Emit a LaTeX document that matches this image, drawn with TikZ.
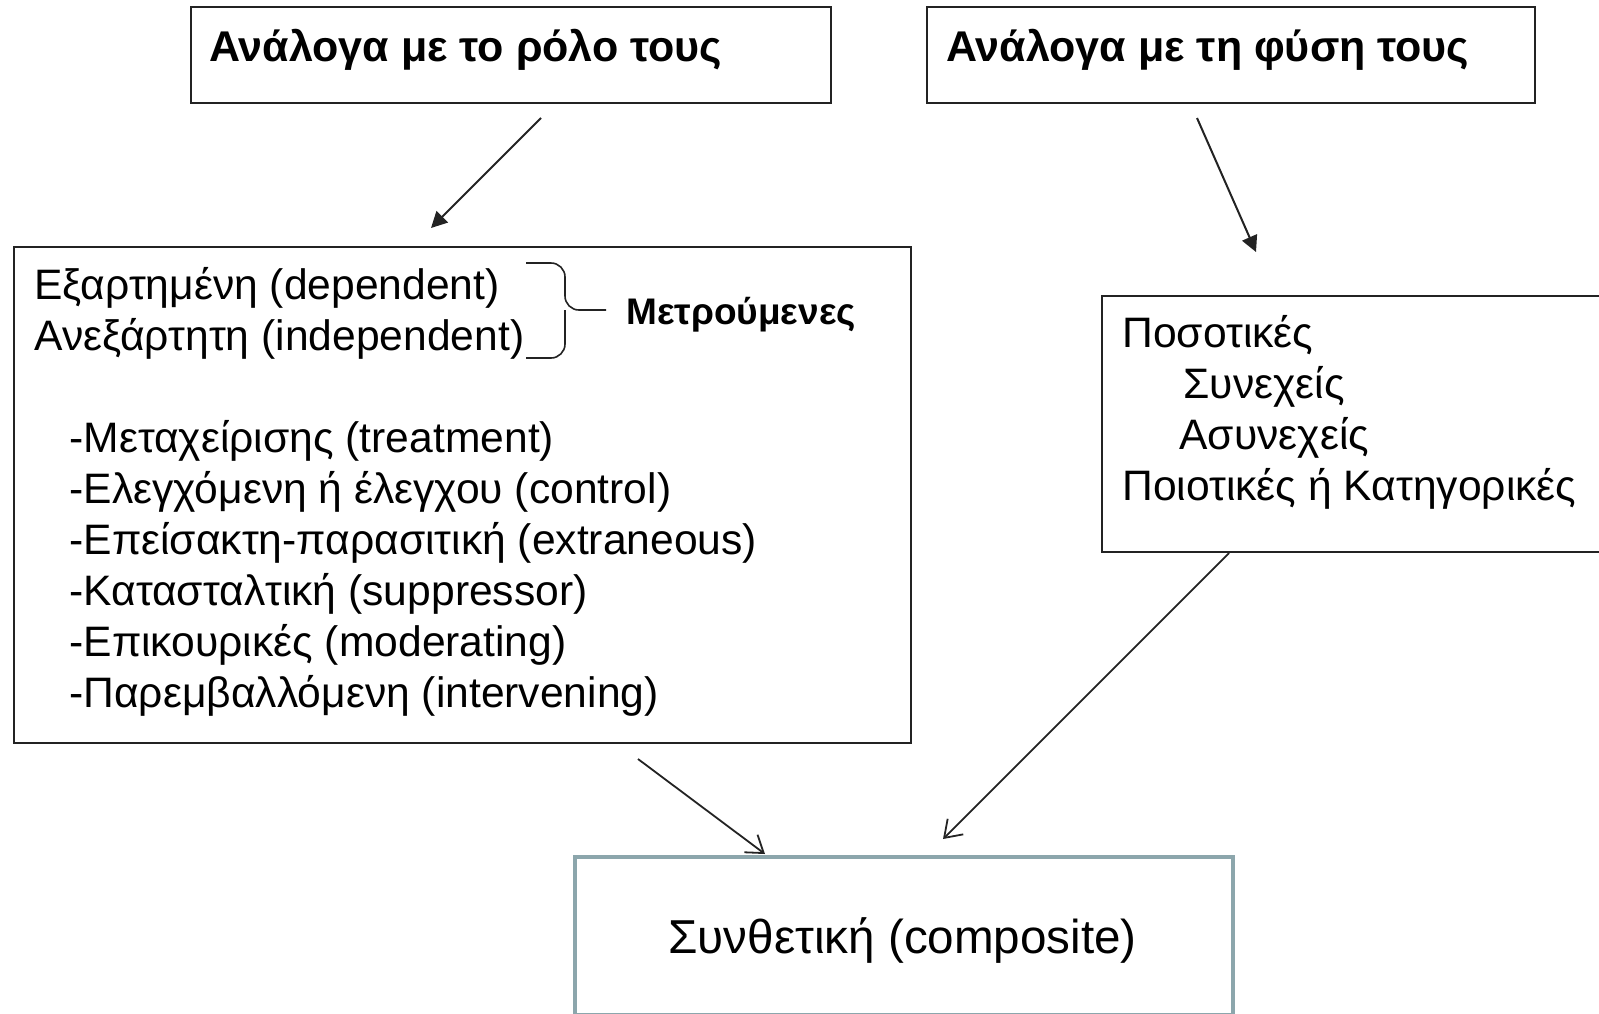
\documentclass[tikz,border=0pt]{standalone}
\usepackage{fontspec}
\setmainfont{Liberation Sans}
\usepackage{tikz}
\usetikzlibrary{arrows.meta,positioning,calc}
\definecolor{boxline}{RGB}{35,35,35}
\definecolor{compline}{RGB}{140,166,172}
\tikzset{
  hbox/.style={rectangle, draw=boxline, line width=0.8pt, fill=white, anchor=north west, inner sep=0pt},
  cbox/.style={rectangle, draw=compline, line width=2pt, fill=white, anchor=north west, inner sep=0pt},
  htxt/.style={anchor=base west, inner sep=0pt, font=\fontsize{21.5}{26}\selectfont\bfseries},
  btxt/.style={anchor=base west, inner sep=0pt, font=\fontsize{21.3}{26}\selectfont},
  mtxt/.style={anchor=base west, inner sep=0pt, font=\fontsize{18.5}{20}\selectfont\bfseries},
  farrow/.style={-{Triangle[length=8pt, width=8pt]}, line width=1pt, boxline},
  oarrow/.style={-{Straight Barb[length=8pt, width=11pt]}, line width=0.9pt, boxline}
}
\begin{document}
\begin{tikzpicture}[x=0.5pt, y=-0.5pt]
  \useasboundingbox (0,0) rectangle (1599,1013);
  \clip (0,0) rectangle (1599,1013);

  % header boxes
  \node[hbox, minimum width=320pt, minimum height=48pt] (role) at (190,6) {};
  \node[hbox, minimum width=304pt, minimum height=48pt] (nature) at (926,6) {};
  \node[htxt] (roletxt) at (209,61) {Ανάλογα με το ρόλο τους};
  \node[htxt] (naturetxt) at (946,61) {Ανάλογα με τη φύση τους};

  % left box
  \node[hbox, minimum width=448.5pt, minimum height=248pt] (rolelist) at (13,246) {};
  \node[btxt] (dep) at (34,299) {Εξαρτημένη (dependent)};
  \node[btxt] (indep) at (34,350) {Ανεξάρτητη (independent)};
  \draw[line width=0.8pt, boxline, rounded corners=7pt]
    (526,263) -- (565,263) -- (565,310) -- (606,310);
  \draw[line width=0.8pt, boxline, rounded corners=7pt]
    (526,358) -- (565,358) -- (565,310);
  \node[mtxt] (measured) at (626,324) {Μετρούμενες};
  \foreach \txt [count=\i from 0] in {-Μεταχείρισης (treatment),
      -Ελεγχόμενη ή έλεγχου (control),
      -Επείσακτη-παρασιτική (extraneous),
      -Κατασταλτική (suppressor),
      -Επικουρικές (moderating),
      -Παρεμβαλλόμενη (intervening)}
    \node[btxt] (kind\i) at (69,452+51*\i) {\txt};

  % right box
  \node[hbox, minimum width=260pt, minimum height=128pt] (naturelist) at (1101,295) {};
  \node[btxt] (quant) at (1122,347) {Ποσοτικές};
  \node[btxt] (cont) at (1183,398) {Συνεχείς};
  \node[btxt] (disc) at (1179,449) {Ασυνεχείς};
  \node[btxt] (qual) at (1122,500) {Ποιοτικές ή Κατηγορικές};

  % bottom box
  \node[cbox, minimum width=329pt, minimum height=79pt] (comp) at (573,855) {};
  \node[btxt, font=\fontsize{23.8}{28}\selectfont] (comptxt) at (668,953) {Συνθετική (composite)};

  % arrows
  \coordinate (a1s) at (541,118);
  \coordinate (a1e) at (431,228);
  \coordinate (a2s) at (1197,118);
  \coordinate (a2e) at (1256,252);
  \coordinate (a3s) at (638,759);
  \coordinate (a3e) at (765,854);
  \coordinate (a4s) at (1229,553);
  \coordinate (a4e) at (943,839);
  \draw[farrow] (a1s) -- (a1e);
  \draw[farrow] (a2s) -- (a2e);
  \draw[oarrow] (a3s) -- (a3e);
  \draw[oarrow] (a4s) -- (a4e);
\end{tikzpicture}
\end{document}
